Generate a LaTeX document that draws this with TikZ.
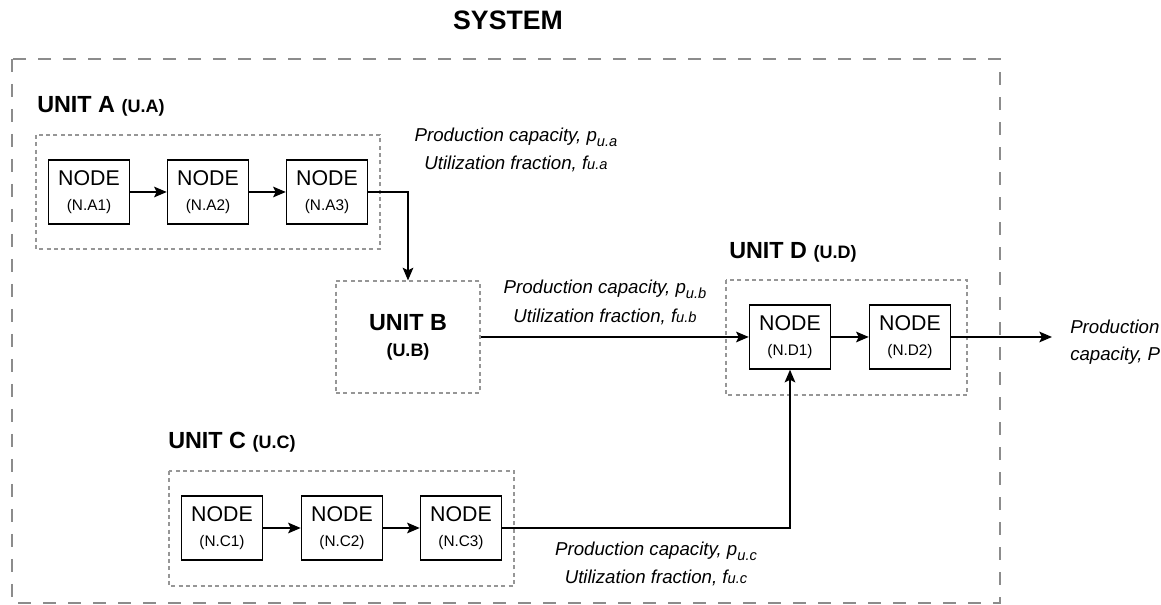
\documentclass[tikz,border=0pt]{standalone}
\usepackage{fontspec}
\setmainfont{Liberation Sans}
\usetikzlibrary{arrows.meta}

\definecolor{sysgray}{HTML}{8C8C8C}
\definecolor{unitgray}{HTML}{969696}

% node text: big name over a small tag
\newcommand{\nodetext}[1]{NODE\\[-1pt]{\fontsize{11.5}{13}\selectfont(#1)}}
\newcommand{\flowsub}[1]{\raisebox{-0.45ex}{\fontsize{11}{12}\selectfont #1}}
\newcommand{\flowsm}[1]{{\fontsize{11}{12}\selectfont #1}}

\begin{document}
\begin{tikzpicture}[x=0.75pt, y=-0.75pt,
    nodebox/.style={draw, line width=1.1pt, minimum width=60.75pt, minimum height=48pt,
        inner sep=0pt, align=center, font=\fontsize{16}{20}\selectfont},
    unitbox/.style={draw=unitgray, line width=0.9pt, dash pattern=on 3pt off 2.5pt},
    arr/.style={-{Stealth[length=9.5pt,width=8pt,inset=2pt]}, line width=1.1pt},
    flowtext/.style={font=\fontsize{14}{15}\selectfont\itshape, inner sep=0pt},
    unitlabel/.style={anchor=base west, inner sep=0pt, font=\fontsize{17.5}{20}\selectfont\bfseries}]
    \useasboundingbox (0,0) rectangle (1161,605);

    % System frame
    \draw[sysgray, line width=1.1pt, dash pattern=on 9.5pt off 9.25pt] (12,59) rectangle (1000,603);
    \node[anchor=base, inner sep=0pt, font=\fontsize{20}{24}\selectfont\bfseries] (title) at (508,30) {SYSTEM};

    % Unit A
    \draw[unitbox] (36,135) rectangle (380,249);
    \node[unitlabel] (lbla) at (37,113) {UNIT A {\fontsize{13.5}{16}\selectfont(U.A)}};
    \node[nodebox] (a1) at (89,192) {\nodetext{N.A1}};
    \node[nodebox] (a2) at (208,192) {\nodetext{N.A2}};
    \node[nodebox] (a3) at (327,192) {\nodetext{N.A3}};
    \draw[arr] (a1) -- (a2);
    \draw[arr] (a2) -- (a3);
    \node[flowtext, anchor=base] (pa) at (516,142) {Production capacity, p\flowsub{u.a}};
    \node[flowtext, anchor=base] (fa) at (516,170) {Utilization fraction, f\flowsm{u.a}};

    % Unit B
    \node[unitbox, minimum width=108pt, minimum height=84pt, align=center,
        font=\fontsize{17.5}{19.5}\selectfont\bfseries] (unitb) at (408,337)
        {UNIT B\\{\fontsize{13.5}{16}\selectfont(U.B)}};
    \draw[arr] (a3.east) -| (unitb.north);
    \node[flowtext, anchor=base] (pb) at (605,294) {Production capacity, p\flowsub{u.b}};
    \node[flowtext, anchor=base] (fb) at (605,323) {Utilization fraction, f\flowsm{u.b}};

    % Unit D
    \draw[unitbox] (726,280) rectangle (967,395);
    \node[unitlabel] (lbld) at (729,259) {UNIT D {\fontsize{13.5}{16}\selectfont(U.D)}};
    \node[nodebox] (d1) at (790,337) {\nodetext{N.D1}};
    \node[nodebox] (d2) at (910,337) {\nodetext{N.D2}};
    \draw[arr] (unitb.east |- d1) -- (d1);
    \draw[arr] (d1) -- (d2);
    \coordinate (out) at (1052,337);
    \draw[arr] (d2.east) -- (out);
    \node[flowtext, anchor=west, align=left, font=\fontsize{14}{20}\selectfont\itshape] (ptot) at (1070,342) {Production\\capacity, P};

    % Unit C
    \draw[unitbox] (169,471) rectangle (514,586);
    \node[unitlabel] (lblc) at (168,449) {UNIT C {\fontsize{13.5}{16}\selectfont(U.C)}};
    \node[nodebox] (c1) at (222,528) {\nodetext{N.C1}};
    \node[nodebox] (c2) at (342,528) {\nodetext{N.C2}};
    \node[nodebox] (c3) at (461,528) {\nodetext{N.C3}};
    \draw[arr] (c1) -- (c2);
    \draw[arr] (c2) -- (c3);
    \draw[arr] (c3.east) -| (d1.south);
    \node[flowtext, anchor=base] (pc) at (656,556) {Production capacity, p\flowsub{u.c}};
    \node[flowtext, anchor=base] (fc) at (656,584) {Utilization fraction, f\flowsm{u.c}};
\end{tikzpicture}
\end{document}
